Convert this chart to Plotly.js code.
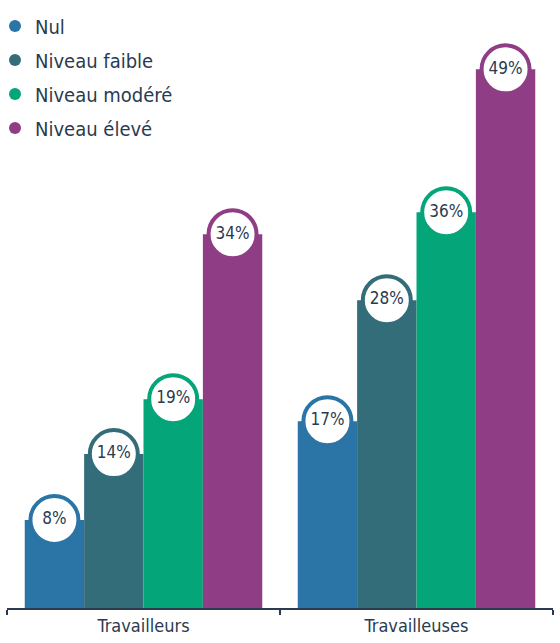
<!DOCTYPE html>
<html>
<head>
<meta charset="utf-8">
<script src="https://cdn.plot.ly/plotly-3.0.1.min.js"></script>
<style>
html,body{margin:0;padding:0;background:#fff;}
#chart{width:560px;height:643px;}
</style>
</head>
<body>
<div id="chart"></div>
<script>
const categories = ['Travailleurs', 'Travailleuses'];
const seriesNames = ['Nul', 'Niveau faible', 'Niveau modéré', 'Niveau élevé'];
const nul = [8, 17];
const faible = [14, 28];
const modere = [19, 36];
const eleve = [34, 49];
const colors = ['#2b74a6', '#336d79', '#04a578', '#8f3e86'];

const FONT = '"DejaVu Sans Condensed", "Liberation Sans Narrow", "Liberation Sans", sans-serif';
const TEXT = '#2a3b4f';
const allSeries = [nul, faible, modere, eleve];

const traces = [];
allSeries.forEach((vals, i) => {
  traces.push({
    type: 'bar', x: categories, y: vals, name: seriesNames[i],
    marker: {color: colors[i]}, showlegend: false, hoverinfo: 'skip'
  });
});
allSeries.forEach((vals, i) => {
  traces.push({
    type: 'scatter', mode: 'markers+text', x: categories, y: vals,
    text: vals.map(v => v + '%'), textposition: 'middle center',
    textfont: {family: FONT, size: 17, color: TEXT},
    marker: {color: '#ffffff', size: 48, line: {color: colors[i], width: 4}},
    showlegend: false, cliponaxis: false, hoverinfo: 'skip'
  });
});
allSeries.forEach((vals, i) => {
  traces.push({
    type: 'scatter', mode: 'markers', x: [null], y: [null], xaxis: 'x2', yaxis: 'y2',
    name: seriesNames[i], legendgroup: 'g' + i,
    marker: {color: colors[i], size: 12}, showlegend: true
  });
});

const layout = {
  width: 560, height: 643,
  margin: {l: 7, r: 7, t: 10, b: 35, autoexpand: false},
  paper_bgcolor: '#fff', plot_bgcolor: '#fff',
  barmode: 'group', bargap: 0.13, bargroupgap: 0,
  scattermode: 'group', scattergap: 0.13,
  showlegend: true,
  legend: {x: 0, xref: 'container', y: 0.99, yref: 'container', xanchor: 'left', yanchor: 'top',
           indentation: -5,
           font: {family: FONT, size: 20, color: TEXT}, tracegroupgap: 5, itemsizing: 'constant',
           bgcolor: 'rgba(0,0,0,0)'},
  xaxis: {type: 'category', range: [-0.5, 1.5], domain: [0, 1], showline: true, linecolor: TEXT, linewidth: 2,
          ticks: 'outside', tickson: 'boundaries', ticklen: 5, tickcolor: TEXT, tickwidth: 2,
          tickfont: {family: FONT, size: 18, color: TEXT}, showgrid: false, zeroline: false, fixedrange: true},
  yaxis: {range: [0, 54.4], domain: [0, 1], visible: false, showgrid: false, zeroline: false, fixedrange: true},
  xaxis2: {domain: [0, 0.01], anchor: 'y2', visible: false, range: [0, 1]},
  yaxis2: {domain: [0, 0.01], anchor: 'x2', visible: false, range: [0, 1]},
  font: {family: FONT, color: TEXT}
};

Plotly.newPlot('chart', traces, layout, {displayModeBar: false, staticPlot: true});
</script>
</body>
</html>
